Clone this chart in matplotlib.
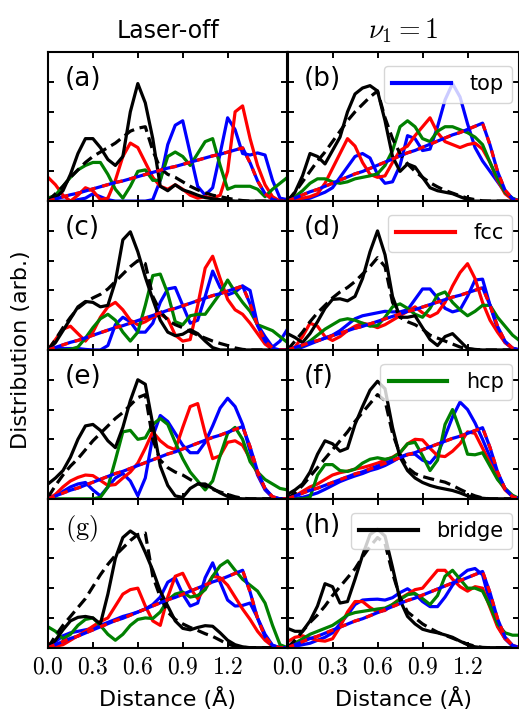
import matplotlib
matplotlib.use('Agg')
import matplotlib.pyplot as plt
from matplotlib.lines import Line2D

plt.rcParams['mathtext.fontset'] = 'cm'
plt.rcParams['font.family'] = ['DejaVu Sans']

# ---------------- data ----------------
distance = [0.0, 0.05, 0.1, 0.15, 0.2, 0.25, 0.3, 0.35, 0.4, 0.45, 0.5, 0.55, 0.6, 0.65,
            0.7, 0.75, 0.8, 0.85, 0.9, 0.95, 1.0, 1.05, 1.1, 1.15, 1.2, 1.25, 1.3, 1.35,
            1.4, 1.45, 1.5, 1.55, 1.6]

x_ticks = [0.0, 0.3, 0.6, 0.9, 1.2]
x_tick_labels = [r'$0.0$', r'$0.3$', r'$0.6$', r'$0.9$', r'$1.2$']
y_ticks = [1, 2, 3, 4]
col_titles = ['Laser-off', r'$\nu_1 = 1$']
panel_labels = ['(a)', '(b)', '(c)', '(d)', '(e)', '(f)', r'$\mathrm{(g)}$', '(h)']
site_names = ['top', 'fcc', 'hcp', 'bridge']
x_label = 'Distance (Å)'
y_label = 'Distribution (arb.)'

# reference (random-distribution) shape, scaled per panel
ref_shape = [0, .04, .08, .12, .15, .19, .23, .27, .31, .35, .38, .42, .46, .5, .54, .58,
             .62, .65, .69, .73, .77, .81, .85, .88, .92, .96, 1.0, .72, .38, .14, .03, 0, 0]
ref_peak = [1.79, 2.62, 2.15, 2.09, 2.43, 2.39, 2.6, 2.56]

# panel (a)
a_top = [0, 0, 0, 0, .05, .1, .25, .15, .05, 0, 0, 0, 0, 0, .05, .7, 1.9, 2.55, 2.7, 1.6,
         .5, .2, .45, 1.6, 2.8, 2.4, 1.6, 1.55, 1.62, 1.55, .7, .1, .05]
a_fcc = [.8, .55, .2, 0, .2, .45, .35, .05, .1, .7, 1.5, 1.95, 1.8, 1.3, .8, .5, .4, .55,
         .4, .2, .1, .15, .1, .2, 1.0, 3.0, 3.2, 2.1, 1.2, .55, .15, 0, 0]
a_hcp = [.1, .2, .5, .8, 1.05, 1.2, 1.3, 1.3, .9, .4, .1, .5, 1.0, 1.05, .7, .7, 1.5, 1.65,
         1.5, 1.2, 1.6, 2.0, 2.1, 1.2, .4, .5, .5, .5, .4, .15, .4, .6, .8]
a_bridge = [0, .1, .35, .9, 1.6, 2.1, 2.1, 1.8, 1.4, 1.2, 1.5, 3.0, 3.95, 3.3, 2.1, .5, .35,
            .55, .38, .3, .2, .12, .08, .05, .03, 0, 0, 0, 0, 0, 0, 0, 0]
a_fit = [0, .25, .5, .8, 1.05, 1.3, 1.5, 1.65, 1.8, 1.95, 2.15, 2.35, 2.45, 2.5, 1.7, 1.1,
         .9, .8, .65, .5, .38, .28, .2, .15, .1, .05, .02, 0, 0, 0, 0, 0, 0]

# panel (b)
b_top = [0, 0, .05, .1, .2, .3, .45, .8, 1.15, 1.5, 1.6, 1.45, .9, .6, .65, 1.2, 2.2, 2.1,
         1.7, 1.75, 2.5, 3.4, 3.95, 3.5, 2.6, 1.8, 1.35, 1.0, .65, .3, .08, 0, 0]
b_fcc = [0, .05, .1, .15, .25, .6, 1.1, 1.6, 2.1, 1.85, 1.3, .9, .8, .85, 1.3, 1.7, 1.85,
         2.2, 2.5, 2.8, 2.3, 2.0, 1.9, 1.8, 1.9, 1.95, 1.75, 1.3, .7, .25, .05, 0, 0]
b_hcp = [.05, .15, .35, .6, .75, .75, .65, .6, .65, .75, .8, .85, .92, 1.2, 1.7, 2.5, 2.7,
         2.5, 2.1, 2.0, 2.35, 2.5, 2.5, 2.4, 2.3, 2.15, 1.9, 1.3, .75, .3, .1, 0, 0]
b_bridge = [0, .3, .85, 1.6, 1.5, 1.25, 1.7, 2.15, 3.0, 3.6, 3.8, 3.88, 3.7, 2.7, 1.5, 1.0,
            1.25, 1.15, .8, .45, .35, .3, .25, .15, .05, 0, 0, 0, 0, 0, 0, 0, 0]
b_fit = [0, .3, .65, 1.0, 1.35, 1.65, 2.0, 2.35, 2.7, 3.0, 3.25, 3.5, 3.7, 2.8, 2.1, 1.6,
         1.25, 1.0, .8, .62, .48, .36, .27, .18, .1, .05, .01, 0, 0, 0, 0, 0, 0]

# panel (c)
c_top = [0, .05, .05, .05, .05, .02, 0, 0, .15, .85, 1.1, .95, .6, .6, .9, 1.6, 2.05, 2.1,
         1.5, .9, 1.0, 1.8, 2.65, 2.1, 1.85, 1.95, 2.15, 2.0, .85, .45, .1, .3, .7]
c_fcc = [0, .35, .7, .8, .55, .3, .6, 1.1, 1.45, 1.6, 1.35, 1.0, .85, .95, 1.1, 1.2, 1.05,
         .5, .3, .35, 1.5, 2.75, 3.15, 2.4, 1.7, 1.35, 1.2, .9, .55, .2, .02, 0, 0]
c_hcp = [0, 0, 0, .02, .1, .4, .75, 1.05, 1.2, 1.0, .6, .3, .6, 1.5, 2.5, 2.55, 1.9, .95,
         .85, 1.15, 1.2, 1.2, 1.55, 1.9, 2.35, 1.95, 1.6, 1.3, .85, .75, .65, .45, .25]
c_bridge = [0, .25, .65, 1.05, 1.45, 1.63, 1.6, 1.45, 1.5, 2.3, 3.7, 3.97, 3.3, 2.45, 1.7,
            1.0, .6, .48, .53, .68, .55, .3, .08, 0, 0, 0, 0, 0, 0, 0, 0, 0, 0]
c_fit = [0, .35, .75, 1.1, 1.4, 1.6, 1.75, 1.87, 2.05, 2.3, 2.55, 2.8, 3.0, 2.9, 1.8, 1.3,
         1.0, .85, .75, .62, .5, .4, .3, .22, .15, .07, .02, 0, 0, 0, 0, 0, 0]

# panel (d)
d_top = [.05, 0, .1, .2, .3, .4, .5, .65, .85, 1.05, 1.15, 1.2, 1.25, 1.3, 1.28, 1.28, 1.35,
         1.7, 2.05, 2.05, 1.75, 1.4, 1.28, 1.35, 1.8, 2.35, 2.38, 1.5, .7, .25, .05, 0, 0]
d_fcc = [0, .1, .45, .9, .8, .45, .32, .45, .65, .8, .9, .85, .75, .85, 1.0, 1.15, 1.3,
         1.45, 1.25, 1.12, 1.25, 1.6, 2.15, 2.6, 2.9, 2.4, 1.6, 1.0, .6, .25, .05, 0, 0]
d_hcp = [0, .05, .15, .3, .5, .7, .85, 1.0, 1.05, 1.0, .9, .8, .82, 1.1, 1.45, 1.55, 1.4,
         1.2, 1.1, 1.4, 1.85, 1.95, 1.6, 1.35, 1.15, 1.3, 1.5, 1.5, 1.1, .8, .5, .3, .15]
d_bridge = [.55, .42, .25, .55, .95, 1.4, 1.7, 1.72, 1.65, 1.8, 2.4, 3.3, 4.0, 3.2, 1.8,
            1.1, 1.1, 1.15, .75, .35, .15, .45, .55, .3, .05, .02, 0, 0, 0, 0, 0, 0, 0]
d_fit = [0, .3, .6, .95, 1.25, 1.5, 1.75, 1.95, 2.1, 2.3, 2.55, 2.8, 3.1, 2.8, 1.6, 1.1,
         .95, .85, .7, .5, .4, .3, .2, .1, .04, .01, 0, 0, 0, 0, 0, 0, 0]

# panel (e)
e_top = [0, .1, .25, .4, .5, .55, .3, .1, .4, .7, .85, .6, .1, .7, 2.1, 2.8, 2.6, 2.2,
         1.8, 1.55, 1.55, 1.9, 2.45, 3.05, 3.38, 3.1, 2.5, 1.6, .8, .3, .05, 0, 0]
e_fcc = [0, .15, .4, .6, .72, .8, .78, .62, .45, .48, .7, .9, 1.2, 1.7, 2.25, 1.95, 1.75,
         1.65, 2.4, 3.1, 3.2, 2.2, 1.35, 1.45, 1.9, 1.95, 1.8, 1.35, .85, .35, .05, 0, 0]
e_hcp = [0, 0, 0, 0, 0, 0, 0, .05, .4, 1.3, 2.25, 2.3, 2.0, 2.05, 2.5, 2.7, 2.5, 1.9, 1.35,
         .9, .6, .3, .6, 1.45, 2.2, 2.4, 2.0, 1.25, .9, .65, .5, .35, .3]
e_bridge = [.5, .7, .95, 1.4, 2.0, 2.45, 2.5, 2.3, 1.95, 1.72, 2.4, 3.3, 4.0, 3.85, 2.5,
            1.1, .45, .1, .05, .35, .5, .5, .35, .2, .08, .02, 0, 0, 0, 0, 0, 0, 0]
e_fit = [.05, .45, .8, 1.1, 1.35, 1.65, 1.95, 2.2, 2.45, 2.7, 2.9, 3.15, 3.4, 3.5, 2.0,
         1.3, 1.05, .9, .8, .65, .52, .42, .32, .23, .15, .07, .02, 0, 0, 0, 0, 0, 0]

# panel (f)
f_top = [.1, .02, .05, .12, .2, .32, .45, .58, .68, .77, .85, .95, 1.02, 1.12, 1.25, 1.4,
         1.5, 1.5, 1.3, 1.2, 1.5, 2.1, 2.75, 3.25, 3.0, 2.55, 2.0, 1.4, .85, .35, .08, 0, 0]
f_fcc = [0, .1, .25, .4, .5, .65, .8, .88, .93, 1.0, 1.05, 1.12, 1.2, 1.3, 1.4, 1.55, 1.85,
         2.0, 1.98, 1.7, 1.45, 1.42, 1.6, 1.85, 2.25, 2.2, 1.7, 1.2, .7, .3, .08, 0, 0]
f_hcp = [0, 0, 0, .05, .8, 1.15, 1.15, .95, .92, 1.0, 1.2, 1.33, 1.38, 1.33, 1.38, 1.55,
         1.85, 1.9, 1.45, .95, 1.3, 2.5, 3.0, 2.3, 1.5, 1.48, 1.55, 1.1, .65, .35, .12, 0, 0]
f_bridge = [.15, .3, .5, .9, 1.5, 1.95, 1.85, 1.6, 1.7, 2.5, 3.1, 3.65, 3.95, 3.7, 2.4,
            1.4, .95, .7, .55, .45, .38, .33, .28, .2, .1, .05, .02, 0, 0, 0, 0, 0, 0]
f_fit = [0, .2, .45, .75, 1.05, 1.35, 1.65, 1.95, 2.25, 2.6, 2.9, 3.2, 3.5, 3.3, 2.2, 1.5,
         1.05, .85, .75, .68, .62, .56, .45, .32, .2, .1, .03, 0, 0, 0, 0, 0, 0]

# panel (g)
g_top = [0, .2, .4, .5, .55, .6, .65, .75, .85, .95, 1.05, 1.12, 1.2, 1.3, 1.45, 1.7, 2.2,
         2.35, 1.8, 1.4, 1.5, 2.35, 2.85, 2.2, 1.6, 1.4, 1.42, 1.5, 1.0, .45, .08, 0, 0]
g_fcc = [.15, .05, .1, .25, .4, .55, .72, .88, 1.0, 1.4, 1.8, 1.95, 2.0, 1.4, .9, .75,
         1.7, 2.4, 2.5, 2.0, 1.65, 2.0, 2.4, 2.35, 2.1, 1.7, 1.3, .95, .55, .25, .05, 0, 0]
g_hcp = [.7, .55, .3, .45, .75, .95, 1.0, .75, .45, .25, .45, .75, .95, 1.0, .98, 1.2,
         1.6, 1.8, 1.87, 1.7, 1.75, 1.95, 2.4, 2.75, 2.92, 2.6, 2.3, 2.1, 1.9, 1.5, .75, .1, 0]
g_bridge = [0, .25, .6, .9, 1.02, 1.05, 1.0, .8, 1.8, 3.0, 3.7, 3.92, 3.75, 3.2, 2.6, 1.9,
            1.4, .9, .65, .6, .68, .74, .72, .5, .25, .1, .03, 0, 0, 0, 0, 0, 0]
g_fit = [0, .4, .75, 1.05, 1.35, 1.65, 2.05, 2.45, 2.8, 3.1, 3.35, 3.6, 3.8, 3.85, 2.4,
         1.7, 1.2, .95, .8, .68, .58, .47, .38, .25, .12, .05, .01, 0, 0, 0, 0, 0, 0]

# panel (h)
h_top = [0, .05, .1, .15, .25, .35, .5, .8, 1.1, 1.45, 1.6, 1.62, 1.63, 1.6, 1.68, 1.85,
         1.98, 1.8, 1.55, 1.38, 1.38, 1.7, 2.1, 2.4, 2.6, 2.66, 2.45, 1.5, .75, .3, .05, 0, 0]
h_fcc = [.2, .35, .4, .32, .25, .22, .3, .7, 1.2, 1.55, 1.55, 1.35, 1.2, 1.25, 1.45, 1.65,
         1.8, 1.95, 2.0, 2.3, 2.6, 2.6, 2.3, 2.05, 1.9, 2.05, 2.0, 1.35, .7, .3, .08, 0, 0]
h_hcp = [0, .15, .3, .45, .55, .65, .75, .92, 1.1, 1.18, 1.22, 1.26, 1.3, 1.33, 1.45, 1.62,
         1.78, 1.82, 1.65, 1.45, 1.75, 2.4, 2.6, 2.3, 2.0, 2.0, 1.9, 1.4, .8, .5, .42, .42, .42]
h_bridge = [.65, .55, .55, .9, 1.4, 2.15, 2.05, 1.5, 1.55, 2.3, 3.1, 3.8, 3.98, 3.75, 2.7,
            1.6, 1.05, .8, .62, .55, .5, .43, .35, .22, .1, .03, 0, 0, 0, 0, 0, 0, 0]
h_fit = [0, .25, .55, .85, 1.1, 1.4, 1.75, 2.05, 2.35, 2.65, 3.05, 3.4, 3.7, 3.5, 2.5, 1.7,
         1.2, 1.0, .8, .65, .52, .42, .32, .22, .12, .05, .01, 0, 0, 0, 0, 0, 0]

panels = [
    (a_top, a_fcc, a_hcp, a_bridge, a_fit),
    (b_top, b_fcc, b_hcp, b_bridge, b_fit),
    (c_top, c_fcc, c_hcp, c_bridge, c_fit),
    (d_top, d_fcc, d_hcp, d_bridge, d_fit),
    (e_top, e_fcc, e_hcp, e_bridge, e_fit),
    (f_top, f_fcc, f_hcp, f_bridge, f_fit),
    (g_top, g_fcc, g_hcp, g_bridge, g_fit),
    (h_top, h_fcc, h_hcp, h_bridge, h_fit),
]

site_colors = ['#0000ff', '#ff0000', '#008000', '#000000']

# ---------------- figure ----------------
W, H = 519, 720
fig = plt.figure(figsize=(W / 100, H / 100), dpi=100)

col_left = [48 / W, 287.5 / W]
col_width = [239.5 / W, 231.5 / W]
col_xmax = [1.6, 1.543]
row_h = 148.85 / H
row_bottom = [1 - (52.3 + row_h * H * (r + 1)) / H for r in range(4)]

lw = 2.3
for i, (top, fcc, hcp, bridge, fit) in enumerate(panels):
    r, c = divmod(i, 2)
    ax = fig.add_axes([col_left[c], row_bottom[r], col_width[c], row_h])
    ax.plot(distance, top, color=site_colors[0], lw=lw)
    ax.plot(distance, fcc, color=site_colors[1], lw=lw)
    ax.plot(distance, hcp, color=site_colors[2], lw=lw)
    ax.plot(distance, bridge, color=site_colors[3], lw=lw)
    ax.plot(distance, fit, color='black', lw=lw, dashes=(3.5, 1.8))
    ref = [v * ref_peak[i] for v in ref_shape]
    ax.plot(distance, ref, color='#0000ff', lw=lw)
    ax.plot(distance, ref, color='#ff0000', lw=lw, dashes=(2.2, 2.2))

    ax.set_xlim(0, col_xmax[c])
    ax.set_ylim(0, 5)
    ax.set_xticks(x_ticks)
    if r == 3:
        ax.set_xticklabels(x_tick_labels, fontsize=17)
        ax.set_xlabel(x_label, fontsize=16, labelpad=6)
    else:
        ax.set_xticklabels([])
    ax.set_yticks(y_ticks)
    ax.set_yticklabels([])
    ax.tick_params(direction='in', top=True, right=True, length=4.5, width=1.4, pad=5)
    for s in ax.spines.values():
        s.set_linewidth(1.5)
    if r == 0:
        ax.set_title(col_titles[c], fontsize=17 if c == 0 else 20, pad=10)

    ax.text(0.07, 0.905, panel_labels[i], transform=ax.transAxes, fontsize=19,
            ha='left', va='top')

    if c == 1:
        handle = Line2D([], [], color=site_colors[r], lw=lw * 1.3)
        corner_x = 512 / W
        corner_y = 1 - (52.3 + r * row_h * H + 13.7) / H
        ax.legend([handle], [site_names[r]], loc='upper right', fontsize=15,
                  handlelength=2.8, handletextpad=0.9, borderaxespad=0,
                  bbox_to_anchor=(corner_x, corner_y), bbox_transform=fig.transFigure)

fig.text(21 / W, 1 - 350 / H, y_label, rotation=90, fontsize=16, ha='center', va='center')

fig.savefig('out.png', dpi=100)
